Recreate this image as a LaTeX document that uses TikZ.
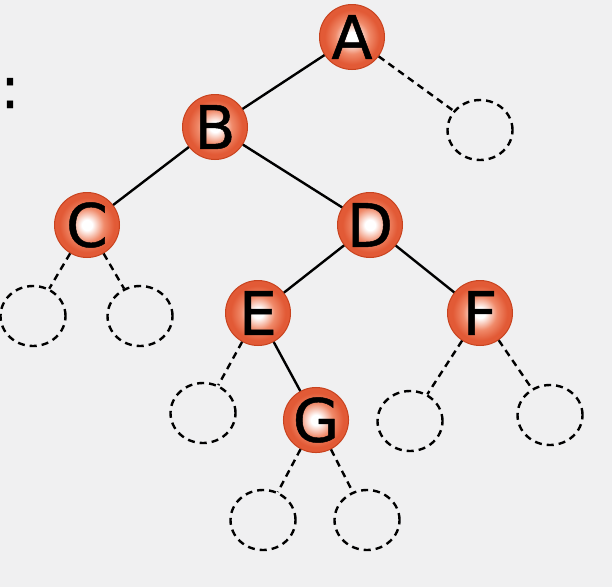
\documentclass[tikz,border=0pt]{standalone}
\usepackage{fontspec}
\setmainfont{DejaVu Sans}
\newfontfamily\ballfont{DejaVu Sans}[FakeBold=0.8]
\usetikzlibrary{shapes.geometric}
\definecolor{bg}{HTML}{F0F0F1}
\definecolor{ballmid}{HTML}{F08A6A}
\definecolor{ballout}{HTML}{E25A36}
\definecolor{ballrim}{HTML}{C8431F}
\pgfdeclareradialshading{ball}{\pgfpoint{0bp}{0bp}}{%
  color(0bp)=(white); color(4bp)=(white);
  color(13bp)=(ballmid); color(21bp)=(ballout);
  color(25bp)=(ballout); color(50bp)=(ballout)}
\tikzset{
  ballnode/.style={circle, minimum size=65pt, inner sep=0pt, shading=ball,
    draw=ballrim, line width=1pt,
    font=\ballfont\fontsize{60}{60}\selectfont},
  emptynode/.style={ellipse, minimum width=65pt, minimum height=60pt, inner sep=0pt,
    draw=black, line width=2.4pt, dash pattern=on 7pt off 5pt},
  solidedge/.style={draw=black, line width=2.4pt},
  dashedge/.style={draw=black, line width=2.4pt, dash pattern=on 7pt off 5pt},
}
\begin{document}
\begin{tikzpicture}[x=1pt,y=-1pt]
\fill[bg] (0,0) rectangle (612,587);
\useasboundingbox (0,0) rectangle (612,587);
\node[font=\ballfont\fontsize{58}{58}\selectfont, inner sep=0pt] (colon) at (10,93) {:};
% empty subtrees
\node[emptynode] (nA) at (480,130) {};
\node[emptynode] (nC1) at (33,316) {};
\node[emptynode] (nC2) at (140,316) {};
\node[emptynode] (nE) at (203,413) {};
\node[emptynode] (nF1) at (410,421) {};
\node[emptynode] (nF2) at (550,415) {};
\node[emptynode] (nG1) at (263,520) {};
\node[emptynode] (nG2) at (367,520) {};
% tree nodes
\node[ballnode] (A) at (352,37) {A};
\node[ballnode] (B) at (215,127) {B};
\node[ballnode] (C) at (87,225) {C};
\node[ballnode] (D) at (370,225) {D};
\node[ballnode] (E) at (258,313) {E};
\node[ballnode] (F) at (480,313) {F};
\node[ballnode] (G) at (316,420) {G};
% edges
\path[solidedge] (A) -- (B) (B) -- (C) (B) -- (D) (D) -- (E) (D) -- (F) (E) -- (G);
\path[dashedge] (A) -- (nA) (C) -- (nC1) (C) -- (nC2) (E) -- (nE)
  (F) -- (nF1) (F) -- (nF2) (G) -- (nG1) (G) -- (nG2);
\end{tikzpicture}
\end{document}
